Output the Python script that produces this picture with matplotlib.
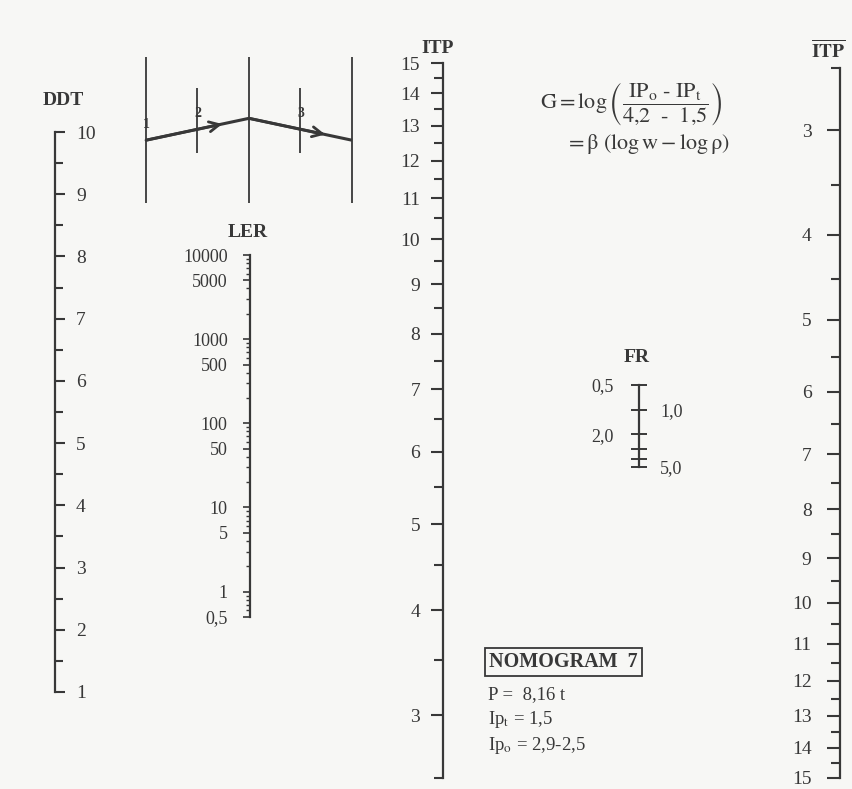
import numpy as np
import matplotlib
matplotlib.use("Agg")
import matplotlib.pyplot as plt
from matplotlib.ticker import FixedLocator, FixedFormatter, LogLocator, NullFormatter

W, H = 853, 789
INK = "#383838"
PAPER = "#f7f7f5"

plt.rcParams["font.family"] = ["Liberation Serif", "DejaVu Serif"]
plt.rcParams["mathtext.fontset"] = "stix"
plt.rcParams["text.color"] = INK
plt.rcParams["ytick.color"] = INK
plt.rcParams["ytick.labelcolor"] = INK

# ── scale data ───────────────────────────────────────────────
ddt_major = [1, 2, 3, 4, 5, 6, 7, 8, 9, 10]
ddt_minor = [1.5, 2.5, 3.5, 4.5, 5.5, 6.5, 7.5, 8.5, 9.5]

ler_values = [0.5, 1, 5, 10, 50, 100, 500, 1000, 5000, 10000]
ler_text = ["0,5", "1", "5", "10", "50", "100", "500", "1000", "5000", "10000"]

itp_major = [3, 4, 5, 6, 7, 8, 9, 10, 11, 12, 13, 14, 15]
itp_minor = [2.5, 3.5, 4.5, 5.5, 6.5, 7.5, 8.5, 9.5, 10.5, 11.5, 12.5, 13.5, 14.5]
itp_range = (2.5, 15)

fr_ticks = [0.5, 1, 2, 3, 4, 5]
fr_left_values = [0.5, 2]
fr_left_text = ["0,5", "2,0"]
fr_right_values = [1, 5]
fr_right_text = ["1,0", "5,0"]

# schematic route across the five guide lines
route_x = [0, 2, 4]
route_y = [0.43, 0.58, 0.43]
long_guides = [0, 2, 4]
short_guides = [1, 3]
guide_names = ["1", "2", "3"]

fig = plt.figure(figsize=(W / 100, H / 100), dpi=100)
fig.patch.set_facecolor(PAPER)

ov = fig.add_axes([0, 0, 1, 1])
ov.set_xlim(0, W); ov.set_ylim(H, 0)
ov.axis("off")


def scale_ax(x, y_top, y_bot, side):
    ax = fig.add_axes([x / W, 1 - y_bot / H, 1e-4, (y_bot - y_top) / H])
    ax.patch.set_visible(False)
    for s in ax.spines.values():
        s.set_visible(False)
    ax.spines[side].set_visible(True)
    ax.spines[side].set_linewidth(1.6)
    ax.spines[side].set_color(INK)
    ax.xaxis.set_visible(False)
    if side == "right":
        ax.yaxis.tick_right()
    else:
        ax.yaxis.tick_left()
    return ax


def itp_fwd(v):
    return np.log10(np.maximum(np.asarray(v, dtype=float) + 1, 1e-9))


def itp_inv(u):
    return 10 ** np.asarray(u, dtype=float) - 1


# ── DDT ──────────────────────────────────────────────────────
ax = scale_ax(55, 132, 692, "right")
ax.set_ylim(1, 10)
ax.set_yticks(ddt_major)
ax.set_yticks(ddt_minor, minor=True)
ax.tick_params(which="major", direction="out", length=7, width=1.5, pad=8, labelsize=14)
ax.tick_params(which="minor", direction="out", length=6, width=1.5)

# ── LER ──────────────────────────────────────────────────────
ax = scale_ax(250, 255, 617, "left")
ax.set_yscale("log")
ax.set_ylim(0.5, 10000)
ax.yaxis.set_major_locator(FixedLocator(ler_values))
ax.yaxis.set_major_formatter(FixedFormatter(ler_text))
ax.yaxis.set_minor_locator(LogLocator(base=10, subs=np.arange(2, 10)))
ax.yaxis.set_minor_formatter(NullFormatter())
ax.tick_params(which="major", direction="out", length=5, width=1.2, pad=11, labelsize=13)
ax.tick_params(which="minor", direction="out", length=3, width=1.0)

# ── ITP (left) and ITP-bar (right) ───────────────────────────
for x, y_top, y_bot, top_val, bot_val, mlen, pad in [
        (443, 63, 778, itp_range[1], itp_range[0], 8.5, 8),
        (840, 68, 778, itp_range[0], itp_range[1], 9.5, 11)]:
    ax = scale_ax(x, y_top, y_bot, "left")
    ax.set_yscale("function", functions=(itp_fwd, itp_inv))
    ax.set_ylim(bot_val, top_val)
    ax.yaxis.set_major_locator(FixedLocator(itp_major))
    ax.yaxis.set_major_formatter(FixedFormatter([str(v) for v in itp_major]))
    ax.yaxis.set_minor_locator(FixedLocator(itp_minor))
    ax.yaxis.set_minor_formatter(NullFormatter())
    ax.tick_params(which="major", direction="out", length=mlen, width=1.5, pad=pad, labelsize=14)
    ax.tick_params(which="minor", direction="out", length=6.5, width=1.5)

# ── FR ───────────────────────────────────────────────────────
ax = scale_ax(639, 385, 467, "left")
ax.set_yscale("log")
ax.set_ylim(5, 0.5)
ax.yaxis.set_major_locator(FixedLocator(fr_ticks))
ax.yaxis.set_major_formatter(FixedFormatter(
    [fr_left_text[fr_left_values.index(v)] if v in fr_left_values else "" for v in fr_ticks]))
ax.yaxis.set_minor_locator(FixedLocator([]))
ax.tick_params(which="major", direction="inout", length=12, width=1.4, pad=12, labelsize=13)
axr = ax.twinx()
for s in axr.spines.values():
    s.set_visible(False)
axr.patch.set_visible(False)
axr.set_yscale("log")
axr.set_ylim(5, 0.5)
axr.yaxis.set_major_locator(FixedLocator(fr_right_values))
axr.yaxis.set_major_formatter(FixedFormatter(fr_right_text))
axr.yaxis.set_minor_locator(FixedLocator([]))
axr.tick_params(which="major", length=0, pad=15, labelsize=13)

# ── guide-line schematic ─────────────────────────────────────
dg = fig.add_axes([146 / W, 1 - 203 / H, (352 - 146) / W, (203 - 57) / H])
dg.set_xlim(0, 4); dg.set_ylim(0, 1)
dg.axis("off")
dg.vlines(long_guides, 0, 1, color=INK, lw=1.3, clip_on=False)
dg.vlines(short_guides, 0.34, 0.79, color=INK, lw=1.3, clip_on=False)
dg.plot(route_x, route_y, color=INK, lw=2.2, clip_on=False, solid_capstyle="butt")
for i in range(len(route_x) - 1):
    f = 0.74
    xm = route_x[i] + f * (route_x[i + 1] - route_x[i])
    ym = route_y[i] + f * (route_y[i + 1] - route_y[i])
    dg.annotate("", xy=(xm, ym), xytext=(route_x[i], route_y[i]),
                arrowprops=dict(arrowstyle="->", color=INK, lw=2.0, mutation_scale=18,
                                shrinkA=0, shrinkB=0))
for gx, name, gy in zip([0, 1, 3], guide_names, [0.54, 0.61, 0.61]):
    dg.text(gx, gy, name, fontsize=10, fontweight="bold", ha="center", va="center",
            clip_on=False)

# ── titles & text ────────────────────────────────────────────
bold = dict(fontsize=14, fontweight="bold", ha="center", va="center")
ov.text(63, 100, "DDT", **bold)
ov.text(248, 232, "LER", **bold)
ov.text(438, 48, "ITP", **bold)
ov.text(828, 50, r"$\overline{\mathbf{ITP}}$", fontsize=14, ha="center", va="center")
ov.text(637, 357, "FR", **bold)

ov.text(540, 104,
        r"$\mathrm{G} = \log\left(\dfrac{\mathrm{IP}_\mathrm{o}\ \text{-}\ \mathrm{IP}_\mathrm{t}}"
        r"{4{,}2\ \ \text{-}\ \ 1{,}5}\right)$",
        fontsize=16, ha="left", va="center")
ov.text(565, 144, r"$=\mathrm{β}\ \left(\log \mathrm{w} - \log \mathrm{ρ}\right)$",
        fontsize=16, ha="left", va="center")

ov.text(489, 662, "NOMOGRAM  7", fontsize=14.5, fontweight="bold", ha="left", va="center",
        bbox=dict(boxstyle="square,pad=0.2", fc="none", ec=INK, lw=1.3))
ov.text(488, 695, "P =  8,16 t", fontsize=13.5, ha="left", va="center")
ov.text(488, 720, r"Ip$_\mathrm{t}$ = 1,5", fontsize=13.5, ha="left", va="center")
ov.text(488, 745, r"Ip$_\mathrm{o}$ = 2,9-2,5", fontsize=13.5, ha="left", va="center")

fig.savefig("out.png", dpi=100, facecolor=PAPER)
